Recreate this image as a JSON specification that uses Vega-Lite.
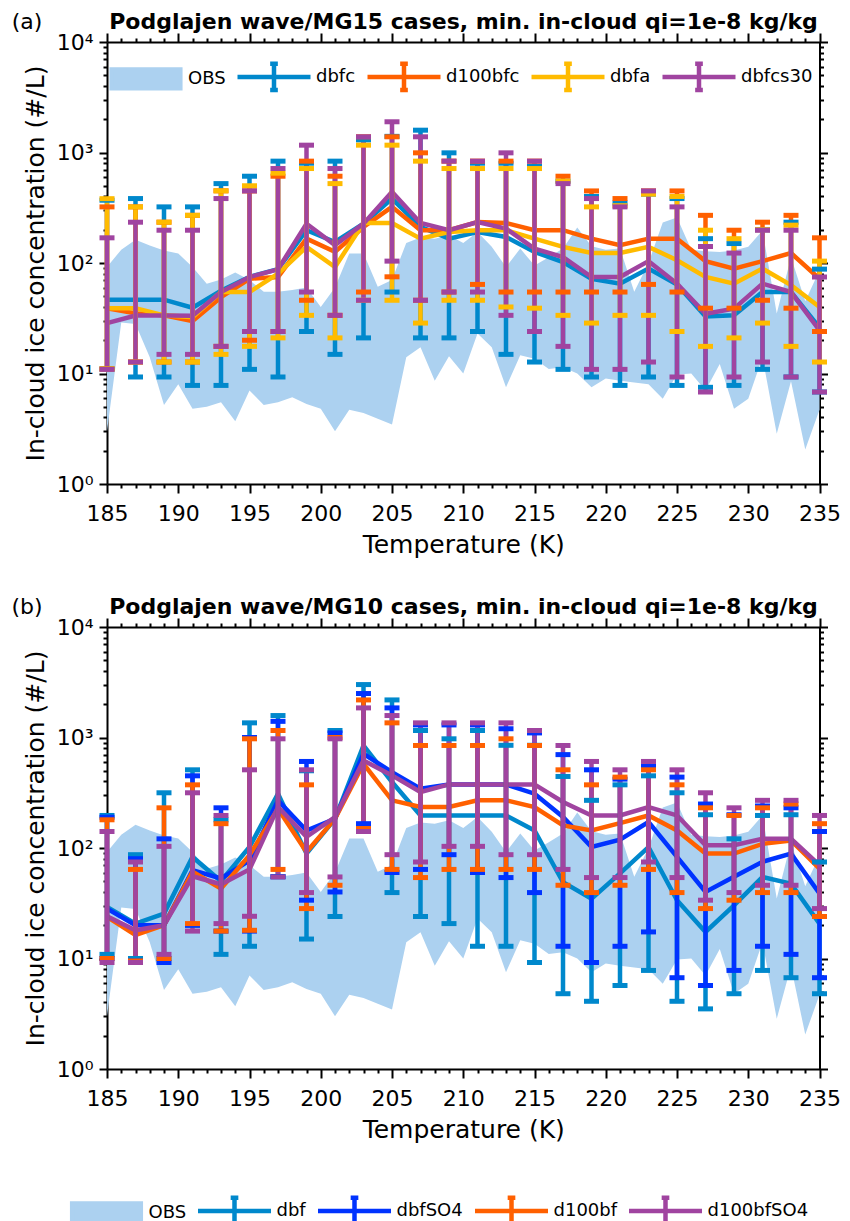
{
"$schema": "https://vega.github.io/schema/vega-lite/v6.json",
"padding": {"left": 10, "top": 10, "right": 5, "bottom": 0},
"background": "white",
"spacing": 38,
"resolve": {"scale": {"color": "independent"}, "legend": {"color": "independent"}},
"config": {
  "view": {"stroke": null},
  "axis": {"grid": false, "domainColor": "black", "domainWidth": 2, "tickColor": "black", "tickWidth": 2,
    "labelFont": "DejaVu Sans", "labelFontSize": 22, "labelColor": "black",
    "titleFont": "DejaVu Sans", "titleFontSize": 25, "titleFontWeight": "normal", "titleColor": "black",
    "labelFlush": false, "labelOverlap": false},
  "legend": {"labelFont": "DejaVu Sans", "labelFontSize": 18, "labelColor": "black", "labelLimit": 300}
},
"datasets": {
"obs": [
{"T":185,"lo":3.0,"hi":92,"s":"OBS"},{"T":186,"lo":29,"hi":132,"s":"OBS"},{"T":187,"lo":28,"hi":162,"s":"OBS"},{"T":188,"lo":14,"hi":144,"s":"OBS"},{"T":189,"lo":5.2,"hi":130,"s":"OBS"},{"T":190,"lo":8,"hi":122,"s":"OBS"},{"T":191,"lo":4.8,"hi":92,"s":"OBS"},{"T":192,"lo":5.0,"hi":65,"s":"OBS"},{"T":193,"lo":5.5,"hi":71,"s":"OBS"},{"T":194,"lo":3.7,"hi":82,"s":"OBS"},{"T":195,"lo":7.0,"hi":70,"s":"OBS"},{"T":196,"lo":5.2,"hi":55,"s":"OBS"},{"T":197,"lo":5.5,"hi":55,"s":"OBS"},{"T":198,"lo":6.1,"hi":57,"s":"OBS"},{"T":199,"lo":5.3,"hi":60,"s":"OBS"},{"T":200,"lo":4.8,"hi":40,"s":"OBS"},{"T":201,"lo":3.0,"hi":60,"s":"OBS"},{"T":202,"lo":4.7,"hi":122,"s":"OBS"},{"T":203,"lo":4.4,"hi":122,"s":"OBS"},{"T":204,"lo":3.9,"hi":61,"s":"OBS"},{"T":205,"lo":3.45,"hi":70,"s":"OBS"},{"T":206,"lo":14,"hi":152,"s":"OBS"},{"T":207,"lo":17.3,"hi":170,"s":"OBS"},{"T":208,"lo":8.6,"hi":166,"s":"OBS"},{"T":209,"lo":14.3,"hi":178,"s":"OBS"},{"T":210,"lo":10,"hi":152,"s":"OBS"},{"T":211,"lo":23,"hi":191,"s":"OBS"},{"T":212,"lo":17.3,"hi":140,"s":"OBS"},{"T":213,"lo":7.5,"hi":92,"s":"OBS"},{"T":214,"lo":14.6,"hi":135,"s":"OBS"},{"T":215,"lo":13.6,"hi":95,"s":"OBS"},{"T":216,"lo":11,"hi":113,"s":"OBS"},{"T":217,"lo":11.4,"hi":135,"s":"OBS"},{"T":218,"lo":10,"hi":210,"s":"OBS"},{"T":219,"lo":7.5,"hi":142,"s":"OBS"},{"T":220,"lo":9,"hi":132,"s":"OBS"},{"T":221,"lo":8.6,"hi":135,"s":"OBS"},{"T":222,"lo":8.3,"hi":55,"s":"OBS"},{"T":223,"lo":8,"hi":100,"s":"OBS"},{"T":224,"lo":5.9,"hi":232,"s":"OBS"},{"T":225,"lo":9.8,"hi":258,"s":"OBS"},{"T":226,"lo":10,"hi":132,"s":"OBS"},{"T":227,"lo":7,"hi":128,"s":"OBS"},{"T":228,"lo":12.2,"hi":126,"s":"OBS"},{"T":229,"lo":4.8,"hi":130,"s":"OBS"},{"T":230,"lo":5.9,"hi":140,"s":"OBS"},{"T":231,"lo":14,"hi":197,"s":"OBS"},{"T":232,"lo":2.85,"hi":35,"s":"OBS"},{"T":233,"lo":8.5,"hi":113,"s":"OBS"},{"T":234,"lo":2.05,"hi":45,"s":"OBS"},{"T":235,"lo":4.7,"hi":86,"s":"OBS"}
],
"a": [
{"T":185,"s":"dbfc","m":46.6,"lo":11,"hi":370},{"T":187,"s":"dbfc","m":46.6,"lo":9.3,"hi":383},{"T":189,"s":"dbfc","m":46.6,"lo":9.3,"hi":322},{"T":191,"s":"dbfc","m":39.4,"lo":7.8,"hi":322},{"T":193,"s":"dbfc","m":56,"lo":7.8,"hi":523},{"T":195,"s":"dbfc","m":75,"lo":10.9,"hi":610},{"T":197,"s":"dbfc","m":88,"lo":9.3,"hi":835},{"T":199,"s":"dbfc","m":198,"lo":24,"hi":800},{"T":201,"s":"dbfc","m":155,"lo":14.9,"hi":835},{"T":203,"s":"dbfc","m":227,"lo":21,"hi":1300},{"T":205,"s":"dbfc","m":383,"lo":54.6,"hi":1400},{"T":207,"s":"dbfc","m":212,"lo":21,"hi":1592},{"T":209,"s":"dbfc","m":166,"lo":21,"hi":993},{"T":211,"s":"dbfc","m":191,"lo":24,"hi":800},{"T":213,"s":"dbfc","m":172,"lo":14.9,"hi":800},{"T":215,"s":"dbfc","m":126,"lo":12.7,"hi":750},{"T":217,"s":"dbfc","m":102,"lo":10.9,"hi":550},{"T":219,"s":"dbfc","m":72,"lo":9.3,"hi":400},{"T":221,"s":"dbfc","m":65,"lo":7.8,"hi":350},{"T":223,"s":"dbfc","m":89,"lo":9.3,"hi":420},{"T":225,"s":"dbfc","m":64,"lo":7.8,"hi":383},{"T":227,"s":"dbfc","m":32.8,"lo":7.5,"hi":166},{"T":229,"s":"dbfc","m":33.6,"lo":7.8,"hi":150},{"T":231,"s":"dbfc","m":54.6,"lo":10.9,"hi":200},{"T":233,"s":"dbfc","m":54.6,"lo":9.3,"hi":234},{"T":235,"s":"dbfc","m":26,"lo":6.8,"hi":88},
{"T":185,"s":"d100bfc","m":39,"lo":11,"hi":322},{"T":187,"s":"d100bfc","m":35,"lo":12.7,"hi":322},{"T":189,"s":"d100bfc","m":33.6,"lo":12.7,"hi":234},{"T":191,"s":"d100bfc","m":29.8,"lo":12.7,"hi":270},{"T":193,"s":"d100bfc","m":49,"lo":17.6,"hi":450},{"T":195,"s":"d100bfc","m":72,"lo":20,"hi":449},{"T":197,"s":"d100bfc","m":74.7,"lo":24,"hi":610},{"T":199,"s":"d100bfc","m":166,"lo":46,"hi":835},{"T":201,"s":"d100bfc","m":126,"lo":33.6,"hi":610},{"T":203,"s":"d100bfc","m":212,"lo":54.6,"hi":1387},{"T":205,"s":"d100bfc","m":322,"lo":75,"hi":1387},{"T":207,"s":"d100bfc","m":198,"lo":46,"hi":993},{"T":209,"s":"d100bfc","m":198,"lo":54.6,"hi":835},{"T":211,"s":"d100bfc","m":235,"lo":64,"hi":835},{"T":213,"s":"d100bfc","m":230,"lo":54.6,"hi":835},{"T":215,"s":"d100bfc","m":198,"lo":54.6,"hi":835},{"T":217,"s":"d100bfc","m":198,"lo":54.6,"hi":610},{"T":219,"s":"d100bfc","m":166,"lo":54.6,"hi":449},{"T":221,"s":"d100bfc","m":145,"lo":54.6,"hi":383},{"T":223,"s":"d100bfc","m":166,"lo":64,"hi":449},{"T":225,"s":"d100bfc","m":166,"lo":54.6,"hi":449},{"T":227,"s":"d100bfc","m":104,"lo":39,"hi":270},{"T":229,"s":"d100bfc","m":89,"lo":39,"hi":198},{"T":231,"s":"d100bfc","m":104,"lo":46,"hi":234},{"T":233,"s":"d100bfc","m":123,"lo":39,"hi":270},{"T":235,"s":"d100bfc","m":72,"lo":24,"hi":169},
{"T":185,"s":"dbfa","m":39,"lo":11,"hi":382},{"T":187,"s":"dbfa","m":39,"lo":12.7,"hi":322},{"T":189,"s":"dbfa","m":33.6,"lo":12.7,"hi":234},{"T":191,"s":"dbfa","m":32.4,"lo":12.7,"hi":270},{"T":193,"s":"dbfa","m":54.6,"lo":14.9,"hi":450},{"T":195,"s":"dbfa","m":54.6,"lo":17.6,"hi":500},{"T":197,"s":"dbfa","m":80,"lo":21,"hi":650},{"T":199,"s":"dbfa","m":140,"lo":33.6,"hi":716},{"T":201,"s":"dbfa","m":92,"lo":21,"hi":523},{"T":203,"s":"dbfa","m":230,"lo":46,"hi":1165},{"T":205,"s":"dbfa","m":230,"lo":46,"hi":1165},{"T":207,"s":"dbfa","m":166,"lo":28.6,"hi":835},{"T":209,"s":"dbfa","m":191,"lo":46,"hi":716},{"T":211,"s":"dbfa","m":198,"lo":46,"hi":716},{"T":213,"s":"dbfa","m":198,"lo":40,"hi":716},{"T":215,"s":"dbfa","m":166,"lo":39,"hi":716},{"T":217,"s":"dbfa","m":140,"lo":33.6,"hi":550},{"T":219,"s":"dbfa","m":123,"lo":28.6,"hi":322},{"T":221,"s":"dbfa","m":123,"lo":33.6,"hi":330},{"T":223,"s":"dbfa","m":140,"lo":33.6,"hi":420},{"T":225,"s":"dbfa","m":106,"lo":24,"hi":400},{"T":227,"s":"dbfa","m":74.7,"lo":17.6,"hi":198},{"T":229,"s":"dbfa","m":65,"lo":21,"hi":166},{"T":231,"s":"dbfa","m":89,"lo":28.6,"hi":200},{"T":233,"s":"dbfa","m":63,"lo":17.6,"hi":220},{"T":235,"s":"dbfa","m":40,"lo":12.7,"hi":104},
{"T":185,"s":"dbfcs30","m":28.6,"lo":10.9,"hi":169},{"T":187,"s":"dbfcs30","m":33.5,"lo":12.7,"hi":234},{"T":189,"s":"dbfcs30","m":33.5,"lo":14.9,"hi":198},{"T":191,"s":"dbfcs30","m":33.4,"lo":14.9,"hi":198},{"T":193,"s":"dbfcs30","m":54.6,"lo":17.6,"hi":383},{"T":195,"s":"dbfcs30","m":74.7,"lo":24,"hi":449},{"T":197,"s":"dbfcs30","m":87.7,"lo":24,"hi":716},{"T":199,"s":"dbfcs30","m":227,"lo":54.6,"hi":1165},{"T":201,"s":"dbfcs30","m":145,"lo":33.6,"hi":716},{"T":203,"s":"dbfcs30","m":227,"lo":46,"hi":1387},{"T":205,"s":"dbfcs30","m":440,"lo":104,"hi":1897},{"T":207,"s":"dbfcs30","m":230,"lo":46,"hi":1387},{"T":209,"s":"dbfcs30","m":198,"lo":54.6,"hi":835},{"T":211,"s":"dbfcs30","m":235,"lo":54.6,"hi":835},{"T":213,"s":"dbfcs30","m":205,"lo":33.6,"hi":993},{"T":215,"s":"dbfcs30","m":135,"lo":24,"hi":835},{"T":217,"s":"dbfcs30","m":113,"lo":17.6,"hi":523},{"T":219,"s":"dbfcs30","m":74.7,"lo":10.9,"hi":383},{"T":221,"s":"dbfcs30","m":74.7,"lo":10.9,"hi":322},{"T":223,"s":"dbfcs30","m":104,"lo":12.7,"hi":449},{"T":225,"s":"dbfcs30","m":65,"lo":9.3,"hi":322},{"T":227,"s":"dbfcs30","m":34.7,"lo":6.8,"hi":141},{"T":229,"s":"dbfcs30","m":38.6,"lo":9.3,"hi":123},{"T":231,"s":"dbfcs30","m":65,"lo":12.7,"hi":198},{"T":233,"s":"dbfcs30","m":54.6,"lo":9.3,"hi":198},{"T":235,"s":"dbfcs30","m":24.5,"lo":6.8,"hi":74.7}
],
"b": [
{"T":185,"s":"dbf","m":29.3,"lo":10.9,"hi":197},{"T":187,"s":"dbf","m":20.7,"lo":10,"hi":87},{"T":189,"s":"dbf","m":25.5,"lo":10,"hi":316},{"T":191,"s":"dbf","m":83,"lo":20,"hi":510},{"T":193,"s":"dbf","m":50,"lo":10.9,"hi":180},{"T":195,"s":"dbf","m":102,"lo":12.9,"hi":1357},{"T":197,"s":"dbf","m":310,"lo":55,"hi":1580},{"T":199,"s":"dbf","m":89,"lo":15,"hi":500},{"T":201,"s":"dbf","m":184,"lo":24,"hi":1157},{"T":203,"s":"dbf","m":847,"lo":150,"hi":3013},{"T":205,"s":"dbf","m":395,"lo":39.5,"hi":2188},{"T":207,"s":"dbf","m":197,"lo":24,"hi":1157},{"T":209,"s":"dbf","m":197,"lo":20.7,"hi":973},{"T":211,"s":"dbf","m":197,"lo":12.9,"hi":1157},{"T":213,"s":"dbf","m":197,"lo":12.9,"hi":850},{"T":215,"s":"dbf","m":144,"lo":9.2,"hi":850},{"T":217,"s":"dbf","m":49,"lo":4.8,"hi":444},{"T":219,"s":"dbf","m":34.8,"lo":4.1,"hi":270},{"T":221,"s":"dbf","m":59,"lo":5.7,"hi":373},{"T":223,"s":"dbf","m":102,"lo":7.8,"hi":450},{"T":225,"s":"dbf","m":33.7,"lo":4.1,"hi":316},{"T":227,"s":"dbf","m":17.4,"lo":3.5,"hi":200},{"T":229,"s":"dbf","m":30.3,"lo":4.8,"hi":121},{"T":231,"s":"dbf","m":54.7,"lo":7.8,"hi":197},{"T":233,"s":"dbf","m":47.6,"lo":6.7,"hi":200},{"T":235,"s":"dbf","m":20.7,"lo":4.8,"hi":74.7},
{"T":185,"s":"dbfSO4","m":28.3,"lo":10,"hi":190},{"T":187,"s":"dbfSO4","m":20,"lo":9.5,"hi":80},{"T":189,"s":"dbfSO4","m":20,"lo":9.2,"hi":121},{"T":191,"s":"dbfSO4","m":63,"lo":20,"hi":450},{"T":193,"s":"dbfSO4","m":53,"lo":17.7,"hi":231},{"T":195,"s":"dbfSO4","m":77,"lo":17.7,"hi":1000},{"T":197,"s":"dbfSO4","m":270,"lo":55,"hi":1400},{"T":199,"s":"dbfSO4","m":144,"lo":33.7,"hi":607},{"T":201,"s":"dbfSO4","m":184,"lo":40,"hi":1100},{"T":203,"s":"dbfSO4","m":712,"lo":166,"hi":2500},{"T":205,"s":"dbfSO4","m":486,"lo":60,"hi":1853},{"T":207,"s":"dbfSO4","m":344,"lo":64,"hi":1300},{"T":209,"s":"dbfSO4","m":376,"lo":87,"hi":1300},{"T":211,"s":"dbfSO4","m":376,"lo":60,"hi":1300},{"T":213,"s":"dbfSO4","m":376,"lo":54,"hi":1200},{"T":215,"s":"dbfSO4","m":310,"lo":39.5,"hi":1100},{"T":217,"s":"dbfSO4","m":191,"lo":12.9,"hi":700},{"T":219,"s":"dbfSO4","m":102,"lo":9.2,"hi":510},{"T":221,"s":"dbfSO4","m":119,"lo":12.9,"hi":420},{"T":223,"s":"dbfSO4","m":172,"lo":17.4,"hi":550},{"T":225,"s":"dbfSO4","m":83,"lo":6.7,"hi":438},{"T":227,"s":"dbfSO4","m":40,"lo":5.7,"hi":250},{"T":229,"s":"dbfSO4","m":55,"lo":7.8,"hi":200},{"T":231,"s":"dbfSO4","m":75,"lo":12.9,"hi":240},{"T":233,"s":"dbfSO4","m":89,"lo":10.9,"hi":231},{"T":235,"s":"dbfSO4","m":38.7,"lo":6.7,"hi":141},
{"T":185,"s":"d100bf","m":23.8,"lo":10,"hi":180},{"T":187,"s":"d100bf","m":16.3,"lo":9.5,"hi":64},{"T":189,"s":"d100bf","m":20,"lo":10,"hi":231},{"T":191,"s":"d100bf","m":61,"lo":20.7,"hi":373},{"T":193,"s":"d100bf","m":43,"lo":17.7,"hi":166},{"T":195,"s":"d100bf","m":86,"lo":18,"hi":973},{"T":197,"s":"d100bf","m":227,"lo":64,"hi":1157},{"T":199,"s":"d100bf","m":92,"lo":28.3,"hi":373},{"T":201,"s":"d100bf","m":184,"lo":46,"hi":1000},{"T":203,"s":"d100bf","m":578,"lo":150,"hi":2188},{"T":205,"s":"d100bf","m":270,"lo":64,"hi":1357},{"T":207,"s":"d100bf","m":235,"lo":54,"hi":847},{"T":209,"s":"d100bf","m":235,"lo":64,"hi":847},{"T":211,"s":"d100bf","m":270,"lo":64,"hi":847},{"T":213,"s":"d100bf","m":270,"lo":64,"hi":973},{"T":215,"s":"d100bf","m":235,"lo":64,"hi":847},{"T":217,"s":"d100bf","m":160,"lo":46,"hi":510},{"T":219,"s":"d100bf","m":144,"lo":39.5,"hi":373},{"T":221,"s":"d100bf","m":168,"lo":46,"hi":438},{"T":223,"s":"d100bf","m":197,"lo":64,"hi":510},{"T":225,"s":"d100bf","m":144,"lo":39.5,"hi":373},{"T":227,"s":"d100bf","m":89,"lo":28.3,"hi":231},{"T":229,"s":"d100bf","m":89,"lo":33.7,"hi":197},{"T":231,"s":"d100bf","m":109,"lo":39.5,"hi":231},{"T":233,"s":"d100bf","m":117,"lo":39.5,"hi":250},{"T":235,"s":"d100bf","m":65,"lo":24,"hi":166},
{"T":185,"s":"d100bfSO4","m":24.1,"lo":9.2,"hi":141},{"T":187,"s":"d100bfSO4","m":18,"lo":9.2,"hi":74.7},{"T":189,"s":"d100bfSO4","m":20,"lo":10.9,"hi":103.5},{"T":191,"s":"d100bfSO4","m":55.5,"lo":17.7,"hi":316},{"T":193,"s":"d100bfSO4","m":47,"lo":20.7,"hi":197},{"T":195,"s":"d100bfSO4","m":64,"lo":24.1,"hi":510},{"T":197,"s":"d100bfSO4","m":235,"lo":54.7,"hi":973},{"T":199,"s":"d100bfSO4","m":126,"lo":39.5,"hi":510},{"T":201,"s":"d100bfSO4","m":190,"lo":54.7,"hi":973},{"T":203,"s":"d100bfSO4","m":620,"lo":141,"hi":1853},{"T":205,"s":"d100bfSO4","m":454,"lo":87,"hi":1580},{"T":207,"s":"d100bfSO4","m":321,"lo":74.7,"hi":1357},{"T":209,"s":"d100bfSO4","m":376,"lo":103.5,"hi":1357},{"T":211,"s":"d100bfSO4","m":376,"lo":103.5,"hi":1357},{"T":213,"s":"d100bfSO4","m":376,"lo":87,"hi":1357},{"T":215,"s":"d100bfSO4","m":376,"lo":87,"hi":1157},{"T":217,"s":"d100bfSO4","m":261,"lo":64,"hi":847},{"T":219,"s":"d100bfSO4","m":197,"lo":54,"hi":607},{"T":221,"s":"d100bfSO4","m":197,"lo":54,"hi":510},{"T":223,"s":"d100bfSO4","m":235,"lo":74.7,"hi":607},{"T":225,"s":"d100bfSO4","m":197,"lo":54,"hi":510},{"T":227,"s":"d100bfSO4","m":106,"lo":33.7,"hi":316},{"T":229,"s":"d100bfSO4","m":106,"lo":39.5,"hi":231},{"T":231,"s":"d100bfSO4","m":121,"lo":46,"hi":270},{"T":233,"s":"d100bfSO4","m":121,"lo":46,"hi":270},{"T":235,"s":"d100bfSO4","m":70,"lo":28.3,"hi":197}
]
},
"vconcat": [
{
 "width": 712.5, "height": 442,
 "layer": [
  {"data": {"name": "obs"}, "mark": {"type": "area", "opacity": 1},
   "encoding": {
    "x": {"field": "T", "type": "quantitative", "scale": {"domain": [185, 235], "nice": false, "zero": false},
      "axis": {"orient": "bottom", "values": [185,186,187,188,189,190,191,192,193,194,195,196,197,198,199,200,201,202,203,204,205,206,207,208,209,210,211,212,213,214,215,216,217,218,219,220,221,222,223,224,225,226,227,228,229,230,231,232,233,234,235],
        "labelExpr": "datum.value % 5 === 0 ? format(datum.value, 'd') : ''",
        "tickSize": {"condition": {"test": "datum.value % 5 === 0", "value": 9}, "value": 4},
        "labelPadding": 10, "title": "Temperature (K)", "titlePadding": 8}},
    "y": {"field": "lo", "type": "quantitative", "scale": {"type": "log", "domain": [1, 10000], "nice": false},
      "axis": {"orient": "left", "values": [1,2,3,4,5,6,7,8,9,10,20,30,40,50,60,70,80,90,100,200,300,400,500,600,700,800,900,1000,2000,3000,4000,5000,6000,7000,8000,9000,10000],
        "labelExpr": "indexof([1,10,100,1000,10000], datum.value) >= 0 ? '10' + ['⁰','¹','²','³','⁴'][round(log(datum.value)/LN10)] : ''",
        "tickSize": {"condition": {"test": "indexof([1,10,100,1000,10000], datum.value) >= 0", "value": 8}, "value": 4},
        "labelPadding": 6, "title": "In-cloud ice concentration (#/L)", "titlePadding": 8}},
    "y2": {"field": "hi"},
    "color": {"field": "s", "type": "nominal",
      "scale": {"domain": ["OBS", "dbfc", "d100bfc", "dbfa", "dbfcs30"], "range": ["#acd1f0", "#0088cc", "#ff6000", "#ffbb00", "#a044a0"]},
      "legend": {"orient": "none", "legendX": 0, "legendY": -4.5, "direction": "horizontal", "columns": 5, "title": null,
        "symbolSize": 5329, "labelOffset": 3, "columnPadding": 2, "padding": 0,
        "symbolType": {"expr": "datum.value === 'OBS' ? 'M-0.94,-0.255H0.94V0.255H-0.94Z' : 'M-1,0H1M0,-0.36V0.36M-0.105,-0.36H0.105M-0.105,0.36H0.105'"},
        "symbolFillColor": {"expr": "datum.value === 'OBS' ? '#acd1f0' : 'transparent'"},
        "symbolStrokeColor": {"expr": "datum.value === 'OBS' ? '#acd1f0' : datum.value === 'dbfc' ? '#0088cc' : datum.value === 'd100bfc' ? '#ff6000' : datum.value === 'dbfa' ? '#ffbb00' : '#a044a0'"},
        "symbolStrokeWidth": 4.5, "symbolOpacity": 1}}
   }},
  {"data": {"name": "a"}, "mark": {"type": "line", "strokeWidth": 4.5},
   "encoding": {
    "x": {"field": "T", "type": "quantitative",
      "axis": {"orient": "top", "values": [185,186,187,188,189,190,191,192,193,194,195,196,197,198,199,200,201,202,203,204,205,206,207,208,209,210,211,212,213,214,215,216,217,218,219,220,221,222,223,224,225,226,227,228,229,230,231,232,233,234,235],
        "labels": false, "tickSize": {"condition": {"test": "datum.value % 5 === 0", "value": 9}, "value": 4},
        "title": "Podglajen wave/MG15 cases, min. in-cloud qi=1e-8 kg/kg", "titleFontWeight": "bold", "titleFontSize": 22,
        "titleX": 356, "titleY": -14, "titleAlign": "center", "titleBaseline": "alphabetic", "titleAngle": 0}},
    "y": {"field": "m", "type": "quantitative",
      "axis": {"orient": "right", "values": [1,2,3,4,5,6,7,8,9,10,20,30,40,50,60,70,80,90,100,200,300,400,500,600,700,800,900,1000,2000,3000,4000,5000,6000,7000,8000,9000,10000],
        "labels": false, "tickSize": {"condition": {"test": "indexof([1,10,100,1000,10000], datum.value) >= 0", "value": 8}, "value": 4},
        "title": "(a)", "titleFontSize": 22, "titleAngle": 0, "titleX": -793, "titleY": -14, "titleAlign": "center", "titleBaseline": "alphabetic"}},
    "color": {"field": "s", "type": "nominal", "legend": null}
   }},
  {"data": {"name": "a"}, "mark": {"type": "rule", "strokeWidth": 4.5},
   "encoding": {
    "x": {"field": "T", "type": "quantitative", "axis": null},
    "y": {"field": "lo", "type": "quantitative", "axis": null},
    "y2": {"field": "hi"},
    "color": {"field": "s", "type": "nominal", "legend": null}
   }},
  {"data": {"name": "a"}, "mark": {"type": "tick", "orient": "horizontal", "size": 15, "thickness": 5, "opacity": 1},
   "encoding": {
    "x": {"field": "T", "type": "quantitative", "axis": null},
    "y": {"field": "lo", "type": "quantitative", "axis": null},
    "color": {"field": "s", "type": "nominal", "legend": null}
   }},
  {"data": {"name": "a"}, "mark": {"type": "tick", "orient": "horizontal", "size": 15, "thickness": 5, "opacity": 1},
   "encoding": {
    "x": {"field": "T", "type": "quantitative", "axis": null},
    "y": {"field": "hi", "type": "quantitative", "axis": null},
    "color": {"field": "s", "type": "nominal", "legend": null}
   }}
 ]
},
{
 "width": 712.5, "height": 442,
 "layer": [
  {"data": {"name": "obs"}, "mark": {"type": "area", "opacity": 1},
   "encoding": {
    "x": {"field": "T", "type": "quantitative", "scale": {"domain": [185, 235], "nice": false, "zero": false},
      "axis": {"orient": "bottom", "values": [185,186,187,188,189,190,191,192,193,194,195,196,197,198,199,200,201,202,203,204,205,206,207,208,209,210,211,212,213,214,215,216,217,218,219,220,221,222,223,224,225,226,227,228,229,230,231,232,233,234,235],
        "labelExpr": "datum.value % 5 === 0 ? format(datum.value, 'd') : ''",
        "tickSize": {"condition": {"test": "datum.value % 5 === 0", "value": 9}, "value": 4},
        "labelPadding": 10, "title": "Temperature (K)", "titlePadding": 8}},
    "y": {"field": "lo", "type": "quantitative", "scale": {"type": "log", "domain": [1, 10000], "nice": false},
      "axis": {"orient": "left", "values": [1,2,3,4,5,6,7,8,9,10,20,30,40,50,60,70,80,90,100,200,300,400,500,600,700,800,900,1000,2000,3000,4000,5000,6000,7000,8000,9000,10000],
        "labelExpr": "indexof([1,10,100,1000,10000], datum.value) >= 0 ? '10' + ['⁰','¹','²','³','⁴'][round(log(datum.value)/LN10)] : ''",
        "tickSize": {"condition": {"test": "indexof([1,10,100,1000,10000], datum.value) >= 0", "value": 8}, "value": 4},
        "labelPadding": 6, "title": "In-cloud ice concentration (#/L)", "titlePadding": 8}},
    "y2": {"field": "hi"},
    "color": {"field": "s", "type": "nominal",
      "scale": {"domain": ["OBS", "dbf", "dbfSO4", "d100bf", "d100bfSO4"], "range": ["#acd1f0", "#0088cc", "#0033ff", "#ff6000", "#a044a0"]},
      "legend": {"orient": "none", "legendX": -39.5, "legendY": 544.5, "direction": "horizontal", "columns": 5, "title": null,
        "symbolSize": 5329, "labelOffset": 3, "columnPadding": 2, "padding": 0,
        "symbolType": {"expr": "datum.value === 'OBS' ? 'M-0.94,-0.255H0.94V0.255H-0.94Z' : 'M-1,0H1M0,-0.36V0.36M-0.105,-0.36H0.105M-0.105,0.36H0.105'"},
        "symbolFillColor": {"expr": "datum.value === 'OBS' ? '#acd1f0' : 'transparent'"},
        "symbolStrokeColor": {"expr": "datum.value === 'OBS' ? '#acd1f0' : datum.value === 'dbf' ? '#0088cc' : datum.value === 'dbfSO4' ? '#0033ff' : datum.value === 'd100bf' ? '#ff6000' : '#a044a0'"},
        "symbolStrokeWidth": 4.5, "symbolOpacity": 1}}
   }},
  {"data": {"name": "b"}, "mark": {"type": "line", "strokeWidth": 4.5},
   "encoding": {
    "x": {"field": "T", "type": "quantitative",
      "axis": {"orient": "top", "values": [185,186,187,188,189,190,191,192,193,194,195,196,197,198,199,200,201,202,203,204,205,206,207,208,209,210,211,212,213,214,215,216,217,218,219,220,221,222,223,224,225,226,227,228,229,230,231,232,233,234,235],
        "labels": false, "tickSize": {"condition": {"test": "datum.value % 5 === 0", "value": 9}, "value": 4},
        "title": "Podglajen wave/MG10 cases, min. in-cloud qi=1e-8 kg/kg", "titleFontWeight": "bold", "titleFontSize": 22,
        "titleX": 356, "titleY": -14, "titleAlign": "center", "titleBaseline": "alphabetic", "titleAngle": 0}},
    "y": {"field": "m", "type": "quantitative",
      "axis": {"orient": "right", "values": [1,2,3,4,5,6,7,8,9,10,20,30,40,50,60,70,80,90,100,200,300,400,500,600,700,800,900,1000,2000,3000,4000,5000,6000,7000,8000,9000,10000],
        "labels": false, "tickSize": {"condition": {"test": "indexof([1,10,100,1000,10000], datum.value) >= 0", "value": 8}, "value": 4},
        "title": "(b)", "titleFontSize": 22, "titleAngle": 0, "titleX": -793, "titleY": -14, "titleAlign": "center", "titleBaseline": "alphabetic"}},
    "color": {"field": "s", "type": "nominal", "legend": null}
   }},
  {"data": {"name": "b"}, "mark": {"type": "rule", "strokeWidth": 4.5},
   "encoding": {
    "x": {"field": "T", "type": "quantitative", "axis": null},
    "y": {"field": "lo", "type": "quantitative", "axis": null},
    "y2": {"field": "hi"},
    "color": {"field": "s", "type": "nominal", "legend": null}
   }},
  {"data": {"name": "b"}, "mark": {"type": "tick", "orient": "horizontal", "size": 15, "thickness": 5, "opacity": 1},
   "encoding": {
    "x": {"field": "T", "type": "quantitative", "axis": null},
    "y": {"field": "lo", "type": "quantitative", "axis": null},
    "color": {"field": "s", "type": "nominal", "legend": null}
   }},
  {"data": {"name": "b"}, "mark": {"type": "tick", "orient": "horizontal", "size": 15, "thickness": 5, "opacity": 1},
   "encoding": {
    "x": {"field": "T", "type": "quantitative", "axis": null},
    "y": {"field": "hi", "type": "quantitative", "axis": null},
    "color": {"field": "s", "type": "nominal", "legend": null}
   }}
 ]
}
]
}
